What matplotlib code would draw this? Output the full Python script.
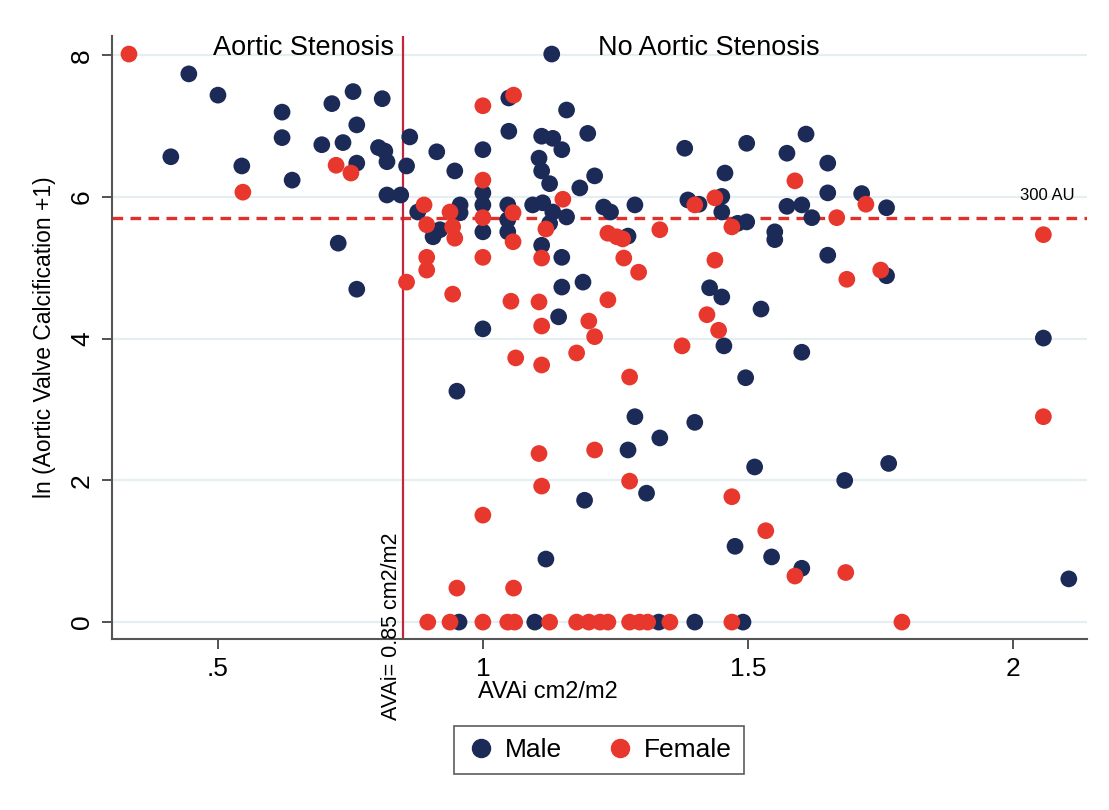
import matplotlib
matplotlib.use("Agg")
import matplotlib.pyplot as plt
from matplotlib.lines import Line2D

plt.rcParams['font.family'] = ['Liberation Sans', 'DejaVu Sans']

# AVAi (cm2/m2) and ln(AVC + 1)
male_x = [0.445, 0.5, 0.411, 0.545, 0.621, 0.621, 0.64, 0.715, 0.755, 0.762,
          0.81, 0.696, 0.736, 0.803, 0.815, 0.819, 0.762, 0.862, 0.856, 0.819,
          0.845, 0.727, 0.762, 0.877, 1.13, 1.049, 1.158, 0.913, 0.947, 1.0,
          1.049, 1.111, 1.132, 1.149, 1.198, 1.106, 1.111, 1.126, 1.183, 1.211,
          1.0, 1.0, 1.0, 0.906, 0.919, 0.957, 0.957, 1.047, 1.047, 1.047,
          1.094, 1.113, 1.132, 1.158, 1.126, 1.111, 1.228, 1.241, 1.287, 1.274,
          1.381, 1.457, 1.387, 1.408, 1.451, 1.451, 1.481, 1.498, 1.498, 1.574,
          1.61, 1.651, 1.651, 1.574, 1.602, 1.621, 1.715, 1.762, 1.551, 1.551,
          1.651, 1.762, 1.525, 1.602, 1.496, 2.058, 1.149, 1.149, 1.189, 1.143,
          1.0, 0.951, 1.287, 1.4, 1.334, 1.274, 1.428, 1.451, 1.455, 1.192,
          1.309, 1.119, 1.476, 1.513, 1.766, 1.683, 1.545, 1.602, 2.106,
          0.955, 1.098, 1.332, 1.4, 1.491]
male_y = [7.74, 7.44, 6.57, 6.44, 7.2, 6.84, 6.24, 7.32, 7.49, 7.02,
          7.39, 6.74, 6.77, 6.7, 6.65, 6.5, 6.48, 6.85, 6.44, 6.03,
          6.03, 5.35, 4.70, 5.79, 8.02, 7.40, 7.23, 6.64, 6.37, 6.67,
          6.93, 6.86, 6.83, 6.67, 6.9, 6.55, 6.37, 6.19, 6.13, 6.30,
          6.06, 5.89, 5.51, 5.44, 5.54, 5.89, 5.78, 5.89, 5.68, 5.51,
          5.89, 5.92, 5.79, 5.72, 5.63, 5.32, 5.86, 5.79, 5.89, 5.45,
          6.69, 6.34, 5.96, 5.90, 6.01, 5.79, 5.63, 6.76, 5.65, 6.62,
          6.89, 6.48, 6.06, 5.87, 5.89, 5.71, 6.05, 5.85, 5.51, 5.40,
          5.18, 4.89, 4.42, 3.81, 3.45, 4.01, 5.15, 4.73, 4.80, 4.31,
          4.14, 3.26, 2.9, 2.82, 2.6, 2.43, 4.72, 4.59, 3.9, 1.72,
          1.82, 0.89, 1.07, 2.19, 2.24, 2.0, 0.92, 0.76, 0.61,
          0, 0, 0, 0, 0]

female_x = [0.332, 0.547, 0.723, 0.751, 0.856, 1.0, 1.058, 1.0, 1.0, 0.889,
            0.894, 0.938, 0.943, 0.947, 1.057, 1.057, 1.151, 1.119, 1.236, 1.253,
            1.264, 1.334, 1.4, 1.438, 1.47, 1.589, 1.668, 1.723, 2.058, 1.687,
            1.751, 2.058, 1.111, 0.894, 0.894, 1.0, 0.943, 1.053, 1.106, 1.111,
            1.2, 1.211, 1.236, 1.062, 1.111, 1.177, 1.266, 1.294, 1.277, 1.211,
            1.106, 1.438, 1.423, 1.445, 1.376, 1.111, 1.0, 1.277, 0.951, 1.058,
            1.47, 1.534, 1.589, 1.685,
            0.896, 0.938, 1.0, 1.047, 1.06, 1.126, 1.177, 1.2, 1.221, 1.236,
            1.277, 1.296, 1.311, 1.353, 1.47, 1.791]
female_y = [8.02, 6.07, 6.45, 6.34, 4.80, 7.29, 7.44, 6.24, 5.71, 5.89,
            5.61, 5.79, 5.58, 5.42, 5.78, 5.37, 5.97, 5.55, 5.49, 5.44,
            5.41, 5.54, 5.89, 5.99, 5.58, 6.23, 5.71, 5.90, 5.47, 4.84,
            4.97, 2.90, 5.14, 5.15, 4.97, 5.15, 4.63, 4.53, 4.52, 4.18,
            4.25, 4.03, 4.55, 3.73, 3.63, 3.80, 5.14, 4.94, 3.46, 2.43,
            2.38, 5.11, 4.34, 4.12, 3.90, 1.92, 1.51, 1.99, 0.48, 0.48,
            1.77, 1.29, 0.65, 0.70,
            0, 0, 0, 0, 0, 0, 0, 0, 0, 0,
            0, 0, 0, 0, 0, 0]

avai_cut = 0.85
avc_cut = 5.707  # ln(300 + 1)

navy = '#1b2a56'
red = '#e8372c'

fig = plt.figure(figsize=(11.09, 8.10), dpi=100)
ax = fig.add_axes([0.101, 0.211, 0.879, 0.745])

ax.scatter(male_x, male_y, s=145, color=navy, edgecolors='none', zorder=3)
ax.scatter(female_x, female_y, s=145, color=red, edgecolors='none', zorder=4)

ax.axhline(avc_cut, color='#e0302a', lw=2.4, ls=(0, (3.2, 2.2)), zorder=2)
ax.axvline(avai_cut, color='#c3263a', lw=1.6, zorder=2)

ax.set_xlim(0.30, 2.14)
ax.set_ylim(-0.24, 8.28)
ax.set_xticks([0.5, 1, 1.5, 2])
ax.set_xticklabels(['.5', '1', '1.5', '2'])
ax.set_yticks([0, 2, 4, 6, 8])
ax.yaxis.grid(True, color='#e5eef1', lw=1.6, zorder=0)
ax.set_axisbelow(True)

for s in ['top', 'right']:
    ax.spines[s].set_visible(False)
for s in ['left', 'bottom']:
    ax.spines[s].set_color('#555555')
    ax.spines[s].set_linewidth(1.5)
ax.tick_params(direction='out', length=7, width=1.3, color='#444444',
               labelsize=19, pad=6)
ax.tick_params(axis='y', labelrotation=90)
for lbl in ax.get_yticklabels():
    lbl.set_va('center')

ax.set_ylabel('ln (Aortic Valve Calcification +1)', fontsize=16.5, labelpad=10)
ax.set_xlabel('AVAi cm2/m2', fontsize=17)
ax.xaxis.set_label_coords(0.447, -0.07)

ax.text(0.49, 8.11, 'Aortic Stenosis', fontsize=19.5, va='center', ha='left')
ax.text(1.217, 8.11, 'No Aortic Stenosis', fontsize=19.5, va='center', ha='left')
ax.text(2.117, 6.02, '300 AU', fontsize=12, va='center', ha='right')
ax.text(avai_cut - 0.003, -1.38, 'AVAi= 0.85 cm2/m2', fontsize=15.5,
        rotation=90, ha='right', va='bottom', clip_on=False)

handles = [Line2D([], [], ls='none', marker='o', ms=13, color=navy, label='Male'),
           Line2D([], [], ls='none', marker='o', ms=13, color=red, label='Female')]
leg = fig.legend(handles=handles, loc='center', bbox_to_anchor=(0.540, 0.074),
                 ncol=2, fontsize=19, frameon=True, fancybox=False,
                 handletextpad=0.3, columnspacing=1.6, borderpad=0.45,
                 handlelength=1.2)
leg.get_frame().set_edgecolor('#333333')
leg.get_frame().set_linewidth(1.2)

fig.savefig('out.png', dpi=100)
